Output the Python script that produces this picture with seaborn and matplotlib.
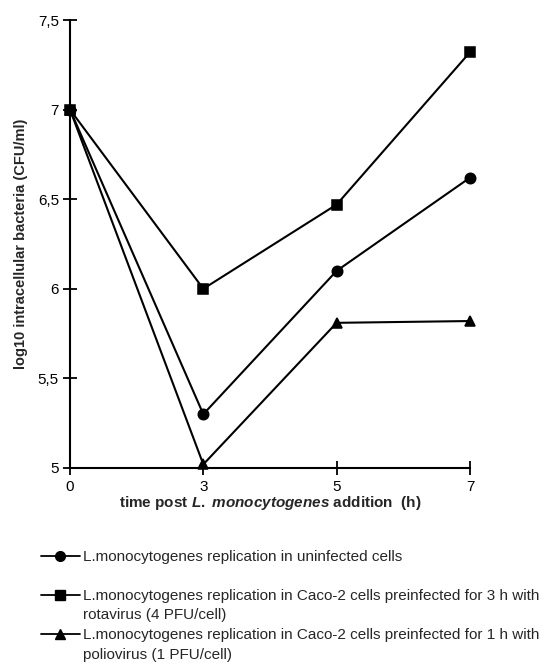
import numpy as np
import pandas as pd
import matplotlib.pyplot as plt
import seaborn as sns
from matplotlib.lines import Line2D
from matplotlib.ticker import FuncFormatter

# Données
times = ["0", "3", "5", "7"]
uninfected = [7.0, 5.30, 6.10, 6.62]
rotavirus = [7.0, 6.00, 6.47, 7.32]
poliovirus = [7.0, 5.02, 5.81, 5.82]

series_names = ["uninfected", "rotavirus", "poliovirus"]
markers = ["o", "s", "^"]
legend_lines = [
    "L.monocytogenes replication in uninfected cells",
    " ",
    "L.monocytogenes replication in Caco-2 cells preinfected for 3 h with",
    "rotavirus (4 PFU/cell)",
    "L.monocytogenes replication in Caco-2 cells preinfected for 1 h with",
    "poliovirus (1 PFU/cell)",
]

df = pd.DataFrame({
    "time": times * 3,
    "value": uninfected + rotavirus + poliovirus,
    "series": np.repeat(series_names, len(times)),
})

sns.set_style("ticks")
plt.rcParams['font.family'] = ['Liberation Sans', 'DejaVu Sans']
plt.rcParams['mathtext.fontset'] = 'custom'
plt.rcParams['mathtext.it'] = 'Liberation Sans:italic:bold'
plt.rcParams['mathtext.rm'] = 'Liberation Sans:bold'

fig = plt.figure(figsize=(5.49, 6.67), dpi=100)
ax = fig.add_axes([0.1275, 0.2984, 0.7285, 0.6716])

sns.pointplot(data=df, x="time", y="value", hue="series", order=times,
              hue_order=series_names, markers=markers, linestyles="-",
              palette=["black"] * 3, errorbar=None, legend=False, ax=ax,
              markersize=7.5, linewidth=1.5)
for ln in ax.get_lines():
    ln.set_clip_on(False)

ax.set_xlim(0, 3)
ax.set_ylim(5, 7.5)
ax.set_yticks([5, 5.5, 6, 6.5, 7, 7.5])
ax.yaxis.set_major_formatter(FuncFormatter(lambda v, p: f"{v:g}".replace(".", ",")))
sns.despine(ax=ax)
for s in ["left", "bottom"]:
    ax.spines[s].set_linewidth(1.5)
    ax.spines[s].set_color("black")
ax.tick_params(axis="both", direction="inout", length=10, width=1.3,
               colors="black", labelsize=11)
ax.tick_params(axis="x", pad=4)
ax.tick_params(axis="y", pad=3)

ax.set_xlabel(r"time post $\it{L.\ monocytogenes}$ addition  (h)",
              fontsize=11, fontweight="bold")
ax.xaxis.set_label_coords(0.5, -0.079)
ax.xaxis.label.set_va("center")
ax.set_ylabel("log10 intracellular bacteria (CFU/ml)", fontsize=10.5,
              fontweight="bold")
ax.yaxis.set_label_coords(-0.122, 0.5)
ax.yaxis.label.set_va("center")

# Légende sous le graphique (lignes vides pour les suites de texte)
blank = Line2D([], [], linestyle="none")
handles = [
    Line2D([], [], color="black", marker="o", markersize=7, linewidth=1.3),
    blank,
    Line2D([], [], color="black", marker="s", markersize=7, linewidth=1.3),
    blank,
    Line2D([], [], color="black", marker="^", markersize=7, linewidth=1.3),
    blank,
]
fig.legend(handles=handles, labels=legend_lines, loc="upper left",
           bbox_to_anchor=(41 / 549, 1 - 550 / 667), frameon=False,
           handlelength=2.55, handletextpad=0.2, fontsize=11,
           labelspacing=0.36, borderaxespad=0, borderpad=0)

fig.savefig("out.png", dpi=100)
